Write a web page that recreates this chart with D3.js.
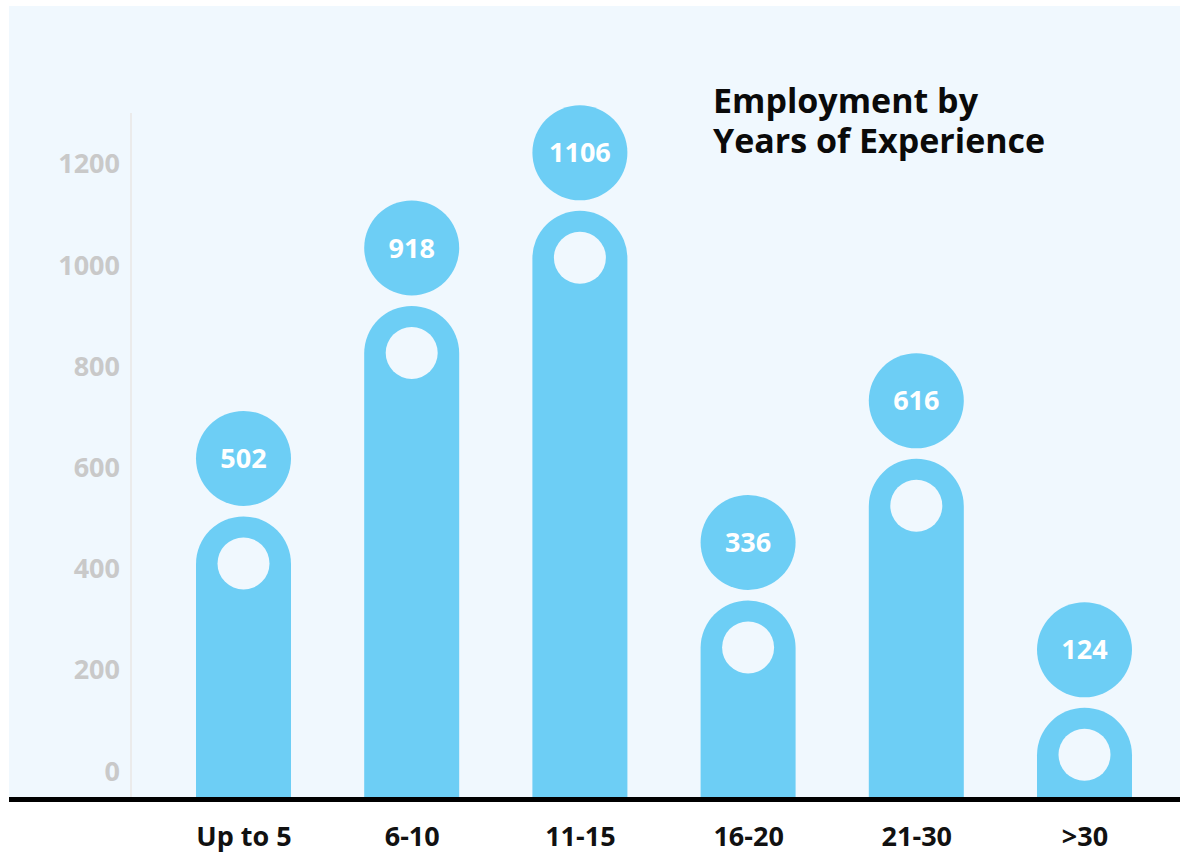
<!DOCTYPE html>
<html>
<head>
<meta charset="utf-8">
<script src="https://cdn.jsdelivr.net/npm/d3@7"></script>
<style>
  html, body { margin: 0; padding: 0; background: #ffffff; }
  svg { display: block; font-family: "Open Sans", "Noto Sans", sans-serif; }
</style>
</head>
<body>
<svg id="chart" width="1182" height="855"></svg>
<script>
// Experience brackets and headcount per bracket
const categories = ["Up to 5", "6-10", "11-15", "16-20", "21-30", ">30"];
const employees = [502, 918, 1106, 336, 616, 124];
const yTicks = [0, 200, 400, 600, 800, 1000, 1200];
const titleLines = ["Employment by", "Years of Experience"];

const barColor = "#6dcef5";
const panelColor = "#f0f8fe";

const svg = d3.select("#chart");

// Plot panel
const panel = { left: 9, top: 6, right: 1180, bottom: 797 };
svg.append("rect")
  .attr("x", panel.left).attr("y", panel.top)
  .attr("width", panel.right - panel.left)
  .attr("height", panel.bottom - panel.top)
  .attr("fill", panelColor);

// Scales
const x = d3.scalePoint().domain(categories).range([243.5, 1084.5]);
const y = d3.scaleLinear().domain([0, 1200]).range([770.5, 163.2]);

const barW = 95;
const r = barW / 2;

// Faint vertical axis rule
svg.append("line")
  .attr("x1", 131).attr("x2", 131)
  .attr("y1", 113).attr("y2", panel.bottom)
  .attr("stroke", "#ebebeb").attr("stroke-width", 2);

// Y axis labels
const yAxis = svg.append("g")
  .attr("transform", "translate(131,0)")
  .call(d3.axisLeft(y).tickValues(yTicks).tickSize(0).tickPadding(11).tickFormat(d3.format("d")));
yAxis.select(".domain").remove();
yAxis.selectAll("text")
  .attr("dy", "0.357em")
  .attr("fill", "#c9c9c9")
  .style("font-size", "27px")
  .style("font-weight", 700)
  .style("font-family", "'Open Sans', sans-serif");

// Bars with rounded tops
const data = categories.map((c, i) => ({ c, v: employees[i] }));
const bars = svg.append("g");

function barPath(d) {
  const cx = x(d.c), top = y(d.v);
  const x0 = cx - r, x1 = cx + r;
  return `M${x0},${panel.bottom} L${x0},${top + r} A${r},${r} 0 0 1 ${x1},${top + r} L${x1},${panel.bottom} Z`;
}

bars.selectAll("path.bar").data(data).join("path")
  .attr("class", "bar")
  .attr("d", barPath)
  .attr("fill", barColor);

// Hollow dot inside each bar cap
bars.selectAll("circle.hole").data(data).join("circle")
  .attr("class", "hole")
  .attr("cx", d => x(d.c))
  .attr("cy", d => y(d.v) + 47)
  .attr("r", 26)
  .attr("fill", panelColor);

// Value bubbles above bars
const bubbles = svg.append("g");
bubbles.selectAll("circle").data(data).join("circle")
  .attr("cx", d => x(d.c))
  .attr("cy", d => y(d.v) - 58)
  .attr("r", r)
  .attr("fill", barColor);
bubbles.selectAll("text").data(data).join("text")
  .attr("x", d => x(d.c))
  .attr("y", d => y(d.v) - 58)
  .attr("dy", "0.357em")
  .attr("text-anchor", "middle")
  .attr("fill", "#ffffff")
  .style("font-size", "27px")
  .style("font-weight", 700)
  .text(d => d.v);

// Baseline
svg.append("rect")
  .attr("x", panel.left).attr("y", panel.bottom)
  .attr("width", panel.right - panel.left).attr("height", 5)
  .attr("fill", "#000000");

// Category labels
const xAxis = svg.append("g")
  .attr("transform", `translate(0,${panel.bottom + 5})`)
  .call(d3.axisBottom(x).tickSize(0).tickPadding(0));
xAxis.select(".domain").remove();
xAxis.selectAll("text")
  .attr("y", 44)
  .attr("dy", 0)
  .attr("fill", "#111111")
  .style("font-size", "27px")
  .style("font-weight", 700)
  .style("font-family", "'Open Sans', sans-serif");

// Title
svg.append("text")
  .attr("x", 713).attr("y", 113)
  .attr("fill", "#0a0a0a")
  .style("font-size", "34px")
  .style("font-weight", 700)
  .selectAll("tspan").data(titleLines).join("tspan")
  .attr("x", 713)
  .attr("dy", (d, i) => i === 0 ? 0 : 40)
  .text(d => d);
</script>
</body>
</html>
